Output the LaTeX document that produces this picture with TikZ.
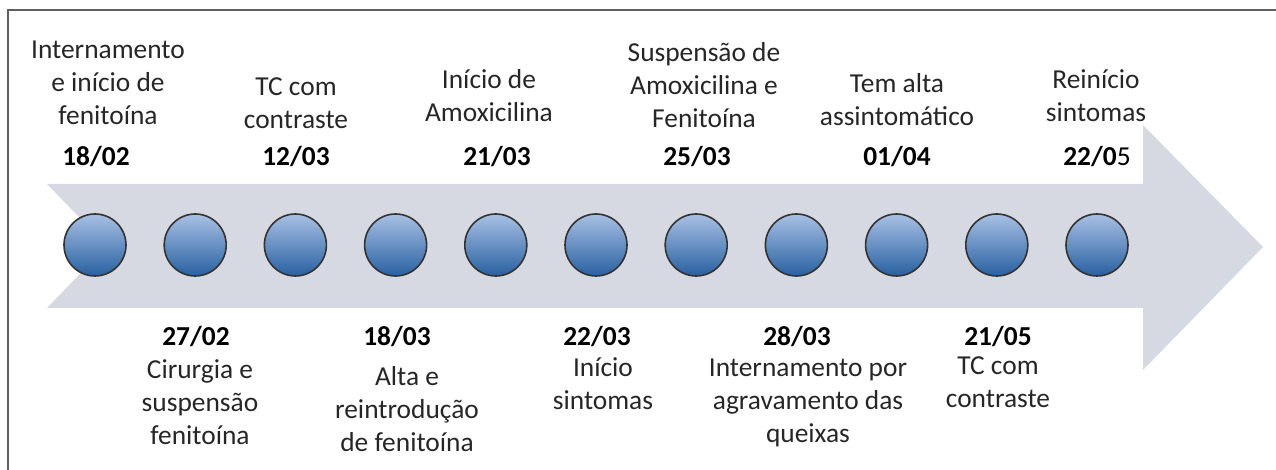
\documentclass[tikz,border=0pt]{standalone}
\usepackage{fontspec}
\setmainfont{Carlito}
\usetikzlibrary{positioning}

\definecolor{arrowgray}{RGB}{214,217,225}
\definecolor{balltop}{RGB}{168,192,228}
\definecolor{ballbottom}{RGB}{40,96,160}
\definecolor{framegray}{RGB}{95,95,95}
\definecolor{textgray}{RGB}{38,38,38}

\tikzset{
  ball/.style={circle, minimum size=31pt, inner sep=0pt, top color=balltop,
    bottom color=ballbottom, draw=black!80, line width=0.8pt},
  date/.style={font=\fontsize{13.7}{16.5}\selectfont\bfseries, text=black, inner sep=0pt},
  event/.style={align=center, text=textgray, inner sep=0pt}
}

\begin{document}
\begin{tikzpicture}[x=0.5pt, y=-0.5pt, font=\fontsize{13.7}{16.5}\selectfont]
            \useasboundingbox (0,0) rectangle (1276,470);
            \draw [framegray, line width=1pt] (1276,10) -- (8,10) -- (8,470);
            \fill [arrowgray] (47,184) -- (1143,184) -- (1143,125) -- (1263,247)
                -- (1143,370) -- (1143,308) -- (47,308) -- (107,246) -- cycle;
            \foreach \i in {1,...,11}
                \node [ball] (c\i) at ({95+100.2*(\i-1)},245) {};
            % above the arrow
            \node [date] (d1) at (96,157) {18/02};
            \node [date] (d3) at (296,157) {12/03};
            \node [date] (d5) at (497,157) {21/03};
            \node [date] (d7) at (697,157) {25/03};
            \node [date] (d9) at (897,157) {01/04};
            \node [date] (d11) at (1097,157) {22/0\mdseries 5};
            \node [event] (e1) at (108,83) {Internamento\\e início de\\fenitoína};
            \node [event] (e3) at (296,103) {TC com\\contraste};
            \node [event] (e5) at (489,96) {Início de\\Amoxicilina};
            \node [event] (e7) at (704,85) {Suspensão de\\Amoxicilina e\\Fenitoína};
            \node [event] (e9) at (897,100) {Tem alta\\assintomático};
            \node [event] (e11) at (1096,96) {Reinício\\sintomas};
            % below the arrow
            \node [date] (d2) at (196,337) {27/02};
            \node [date] (d4) at (397,337) {18/03};
            \node [date] (d6) at (597,337) {22/03};
            \node [date] (d8) at (797,337) {28/03};
            \node [date] (d10) at (998,337) {21/05};
            \node [event] (e2) at (200,402) {Cirurgia e\\suspensão\\fenitoína};
            \node [event] (e4) at (407,409) {Alta e\\reintrodução\\de fenitoína};
            \node [event] (e6) at (603,384) {Início\\sintomas};
            \node [event] (e8) at (808,403) {Internamento por\\agravamento das\\queixas};
            \node [event] (e10) at (998,382) {TC com\\contraste};
        \end{tikzpicture}
\end{document}
